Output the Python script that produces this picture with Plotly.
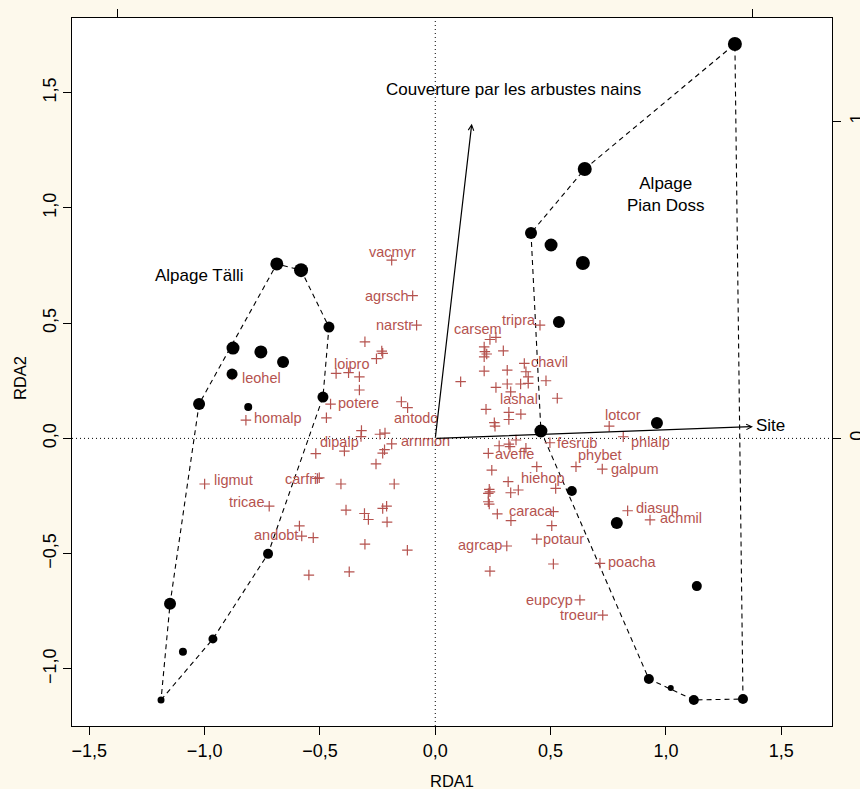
import plotly.graph_objects as go

# ---------------- data ----------------
# Site scores (RDA1, RDA2) per alpage; site_cex = marker diameter (px)
talli_x = [-0.687, -0.582, -0.461, -0.877, -0.756, -0.660, -0.881, -1.024, -0.811, -0.487, -0.725, -1.150, -0.964, -1.094, -1.189]
talli_y = [0.757, 0.730, 0.483, 0.392, 0.375, 0.331, 0.279, 0.149, 0.136, 0.179, -0.501, -0.718, -0.870, -0.926, -1.135]
talli_cex = [13, 14, 11, 13, 13, 12, 11, 12, 8, 11, 10, 12, 9, 8, 7]

pian_x = [1.299, 0.648, 0.415, 0.502, 0.640, 0.536, 0.458, 0.961, 0.592, 0.787, 1.134, 0.926, 1.021, 1.121, 1.334]
pian_y = [1.711, 1.169, 0.891, 0.839, 0.761, 0.505, 0.032, 0.067, -0.228, -0.367, -0.641, -1.044, -1.083, -1.135, -1.131]
pian_cex = [14, 14, 12, 13, 14, 12, 13, 12, 10, 12, 10, 10, 6, 10, 10]

# Labelled species scores
sp_names = ["vacmyr", "agrsch", "narstr", "loipro", "leohel", "homalp", "potere", "antodo",
            "dipalp", "arnmon", "ligmut", "carfri", "tricae", "andobt", "tripra", "carsem",
            "chavil", "lashal", "lotcor", "phlalp", "fesrub", "aveffe", "hiehop", "phybet",
            "galpum", "caraca", "potaur", "agrcap", "diasup", "achmil", "poacha", "eupcyp", "troeur"]
sp_x = [-0.189, -0.098, -0.081, -0.376, -0.881, -0.821, -0.454, -0.120,
        -0.322, -0.189, -1.000, -0.503, -0.720, -0.579, 0.454, 0.237,
        0.386, 0.371, 0.754, 0.815, 0.497, 0.230, 0.440, 0.610,
        0.724, 0.512, 0.440, 0.310, 0.834, 0.931, 0.714, 0.627, 0.726]
sp_y = [0.773, 0.619, 0.491, 0.285, 0.275, 0.079, 0.149, 0.133,
        0.008, -0.024, -0.198, -0.171, -0.294, -0.424, 0.491, 0.429,
        0.325, 0.105, 0.053, 0.007, -0.019, -0.065, -0.123, -0.123,
        -0.133, -0.318, -0.437, -0.467, -0.314, -0.354, -0.542, -0.701, -0.767]

# Unlabelled species scores
sp2_x = [-0.305, -0.232, -0.228, -0.255, -0.430, -0.329, -0.329, -0.147, -0.472, -0.320, -0.240,
         -0.218, -0.518, -0.394, -0.220, -0.228, -0.257, -0.511, -0.409, -0.178, -0.387, -0.307,
         -0.290, -0.228, -0.211, -0.209, -0.589, -0.529, -0.305, -0.121, -0.548, -0.373,
         0.263, 0.212, 0.215, 0.223, 0.212, 0.295, 0.212, 0.312, 0.393, 0.403, 0.110,
         0.263, 0.312, 0.370, 0.403, 0.480, 0.327, 0.529, 0.220, 0.319, 0.319, 0.256,
         0.259, 0.350, 0.277, 0.319, 0.324, 0.393, 0.245, 0.316, 0.522, 0.234, 0.237,
         0.230, 0.327, 0.360, 0.230, 0.234, 0.269, 0.328, 0.505, 0.512, 0.237]
sp2_y = [0.419, 0.379, 0.369, 0.346, 0.282, 0.267, 0.210, 0.159, 0.089, 0.034, 0.018,
         0.023, -0.066, -0.055, -0.049, -0.064, -0.111, -0.174, -0.198, -0.198, -0.311, -0.326,
         -0.352, -0.304, -0.294, -0.363, -0.380, -0.431, -0.459, -0.485, -0.593, -0.579,
         0.438, 0.397, 0.376, 0.366, 0.354, 0.380, 0.292, 0.296, 0.289, 0.267, 0.246,
         0.221, 0.236, 0.236, 0.239, 0.250, 0.202, 0.174, 0.126, 0.113, 0.082, 0.068,
         0.053, -0.007, -0.032, -0.025, -0.036, -0.043, -0.138, -0.188, -0.217, -0.221, -0.232,
         -0.239, -0.236, -0.224, -0.275, -0.285, -0.328, -0.357, -0.379, -0.545, -0.576]

# Environmental biplot arrows (biplot scale, top/right axes)
env_names = ["Site", "Couverture par les arbustes nains"]
env_x = [1.001, 0.115]
env_y = [0.037, 0.992]

group_names = ["Alpage Tälli", "Alpage<br>Pian Doss"]

# ---------------- style ----------------
RED = "#b5534f"
BG = "#fdf9ec"
SANS = "Liberation Sans, Arial, sans-serif"
BIPLOT_MULT = 1.376
XR = [-1.575, 1.72]
YR = [-1.248, 1.824]

# label centre offsets from species point, in px (dx right, dy up)
label_offset = {
    "vacmyr": (1, 8), "agrsch": (-26, 0), "narstr": (-22, 0), "loipro": (2.5, 9),
    "leohel": (29, -3), "homalp": (31.7, 1.7), "potere": (27.5, 0.7), "antodo": (8, -10),
    "dipalp": (-21.8, -5.2), "arnmon": (33.8, 2.8), "ligmut": (28.8, 4), "carfri": (-18.6, -1.6),
    "tricae": (-22.6, 4.3), "andobt": (-26, 1), "tripra": (-21.3, 5), "carsem": (-11.7, 11),
    "chavil": (24.7, 1), "lashal": (-1.5, 14.7), "lotcor": (13.5, 11), "phlalp": (27.2, -5),
    "fesrub": (26.7, 0), "aveffe": (26.4, -1), "hiehop": (6.3, -11.3), "phybet": (24.5, 11.7),
    "galpum": (33, 0), "caraca": (-22, 1), "potaur": (26.6, 0), "agrcap": (-26.4, 1),
    "diasup": (30, 2.4), "achmil": (31.2, 1.7), "poacha": (33, 1.6), "eupcyp": (-30, 0),
    "troeur": (-23.9, 0),
}


def convex_hull(xs, ys):
    pts = sorted(zip(xs, ys))

    def cross(o, a, b):
        return (a[0] - o[0]) * (b[1] - o[1]) - (a[1] - o[1]) * (b[0] - o[0])

    lower, upper = [], []
    for p in pts:
        while len(lower) >= 2 and cross(lower[-2], lower[-1], p) <= 0:
            lower.pop()
        lower.append(p)
    for p in reversed(pts):
        while len(upper) >= 2 and cross(upper[-2], upper[-1], p) <= 0:
            upper.pop()
        upper.append(p)
    hull = lower[:-1] + upper[:-1]
    hull.append(hull[0])
    return [p[0] for p in hull], [p[1] for p in hull]


fig = go.Figure()

# hulls
for gx, gy in [(talli_x, talli_y), (pian_x, pian_y)]:
    hx, hy = convex_hull(gx, gy)
    fig.add_trace(go.Scatter(x=hx, y=hy, mode="lines",
                             line=dict(color="black", width=1.1, dash="5px,4px"),
                             hoverinfo="skip", showlegend=False))

# species (+)
plus = dict(symbol="cross-thin", size=7.5, color=RED, opacity=1, line=dict(color=RED, width=1.2))
fig.add_trace(go.Scatter(x=sp2_x + sp_x, y=sp2_y + sp_y, mode="markers", marker=plus,
                         showlegend=False))

# sites
fig.add_trace(go.Scatter(x=talli_x + pian_x, y=talli_y + pian_y, mode="markers",
                         marker=dict(symbol="circle", size=talli_cex + pian_cex, color="black",
                                     opacity=1, line=dict(width=0)),
                         showlegend=False))

# invisible trace on biplot axes
fig.add_trace(go.Scatter(x=env_x, y=env_y, xaxis="x2", yaxis="y2", mode="markers",
                         marker=dict(opacity=0), hoverinfo="skip", showlegend=False))

annotations = []
# species labels
for n, sx, sy in zip(sp_names, sp_x, sp_y):
    dx, dy = label_offset[n]
    annotations.append(dict(x=sx, y=sy, xref="x", yref="y", text=n, showarrow=False,
                            xanchor="center", yanchor="middle", xshift=dx, yshift=dy,
                            font=dict(family=SANS, size=14.5, color=RED)))
# arrows
for ex, ey in zip(env_x, env_y):
    annotations.append(dict(x=ex, y=ey, ax=0, ay=0, xref="x2", yref="y2", axref="x2", ayref="y2",
                            text="", showarrow=True, arrowhead=5, arrowsize=0.9,
                            arrowwidth=1.2, arrowcolor="black", standoff=0, startstandoff=0))
# arrow labels
annotations.append(dict(x=env_x[0], y=env_y[0], xref="x2", yref="y2", text=env_names[0],
                        showarrow=False, xanchor="left", yanchor="middle", xshift=1, yshift=1,
                        font=dict(family=SANS, size=17, color="black")))
annotations.append(dict(x=env_x[1], y=env_y[1], xref="x2", yref="y2", text=env_names[1],
                        showarrow=False, xanchor="center", yanchor="middle", xshift=42, yshift=34,
                        font=dict(family=SANS, size=17, color="black")))
# group labels
annotations.append(dict(x=-1.024, y=0.708, xref="x", yref="y", text=group_names[0], showarrow=False,
                        font=dict(family=SANS, size=17, color="black")))
annotations.append(dict(x=0.997, y=1.059, xref="x", yref="y", text=group_names[1], showarrow=False,
                        font=dict(family=SANS, size=17, color="black")))
# axis titles
annotations.append(dict(x=0.5, y=0, xref="paper", yref="paper", text="RDA1", showarrow=False,
                        yanchor="middle", yshift=-55, font=dict(family=SANS, size=16.5, color="black")))
annotations.append(dict(x=0, y=0.5, xref="paper", yref="paper", text="RDA2", showarrow=False,
                        textangle=-90, xanchor="center", xshift=-52, yshift=-6,
                        font=dict(family=SANS, size=16.5, color="black")))

shapes = [
    dict(type="line", xref="paper", x0=0, x1=1, yref="y", y0=0, y1=0,
         line=dict(color="black", width=1, dash="1px,3px"), layer="below"),
    dict(type="line", yref="paper", y0=0, y1=1, xref="x", x0=0, x1=0,
         line=dict(color="black", width=1, dash="1px,3px"), layer="below"),
]

tickfont = dict(family=SANS, size=18, color="black")
fig.update_layout(
    width=860, height=789,
    margin=dict(l=72, r=28, t=18, b=63, autoexpand=False),
    paper_bgcolor=BG, plot_bgcolor="white",
    showlegend=False,
    annotations=annotations, shapes=shapes,
    xaxis=dict(range=XR, tickvals=[-1.5, -1.0, -0.5, 0.0, 0.5, 1.0, 1.5],
               ticktext=["\u22121,5", "\u22121,0", "\u22120,5", "0,0", "0,5", "1,0", "1,5"],
               ticks="outside", ticklen=8, tickwidth=1, tickcolor="black",
               showline=True, linecolor="black", linewidth=1.2, mirror=True, automargin=False,
               showgrid=False, zeroline=False, tickfont=tickfont),
    yaxis=dict(range=YR, tickvals=[-1.0, -0.5, 0.0, 0.5, 1.0, 1.5],
               ticktext=["\u22121,0", "\u22120,5", "0,0", "0,5", "1,0", "1,5"],
               ticks="outside", ticklen=8, tickwidth=1, tickcolor="black", tickangle=-90,
               showline=True, linecolor="black", linewidth=1.2, mirror=True, automargin=False,
               showgrid=False, zeroline=False, tickfont=tickfont),
    xaxis2=dict(range=[XR[0] / BIPLOT_MULT, XR[1] / BIPLOT_MULT], overlaying="x", side="top",
                anchor="y", tickvals=[-1, 1], ticks="outside", ticklen=8, tickwidth=1,
                tickcolor="black", showticklabels=False, showgrid=False, zeroline=False,
                showline=False, automargin=False),
    yaxis2=dict(range=[YR[0] / BIPLOT_MULT, YR[1] / BIPLOT_MULT], overlaying="y", side="right",
                anchor="x", tickvals=[0, 1], ticktext=["0", "1"], ticks="outside", ticklen=8,
                tickwidth=1, tickcolor="black", tickangle=-90, showgrid=False, zeroline=False,
                showline=False, tickfont=tickfont, automargin=False),
)

fig.write_html("out.html", config={"displayModeBar": False},
               post_script="document.body.style.margin='0';document.body.style.padding='0';"
                           "document.body.style.background='" + BG + "';")
